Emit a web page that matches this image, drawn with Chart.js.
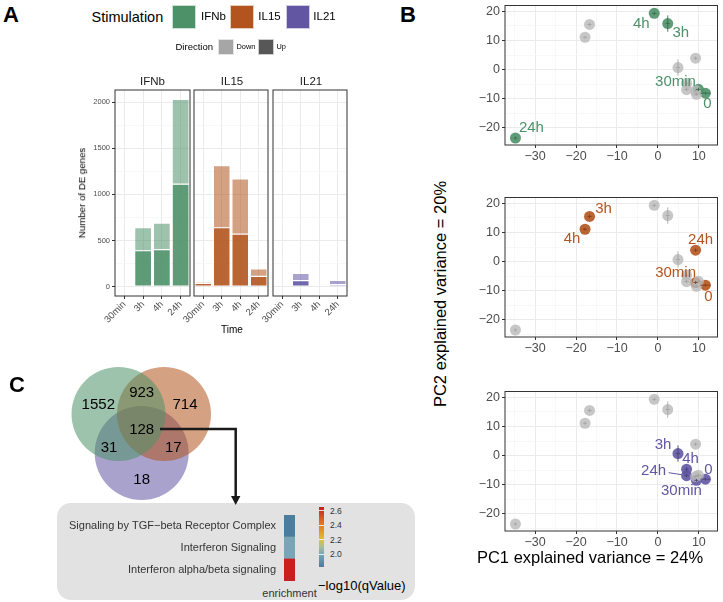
<!DOCTYPE html>
<html>
<head>
<meta charset="utf-8">
<script src="https://cdn.jsdelivr.net/npm/chart.js@4.4.1/dist/chart.umd.min.js"></script>
<style>
body { margin: 0; width: 723px; height: 602px; position: relative; background: #fff; overflow: hidden;
       font-family: "Liberation Sans", Arial, sans-serif; color: #000; }
canvas { position: absolute; }
.t { position: absolute; white-space: nowrap; line-height: 1; }
.sw { position: absolute; box-sizing: border-box; border: 1px solid rgba(255,255,255,0.7); }
#box { position: absolute; left: 57px; top: 503px; width: 358px; height: 97px; background: #e2e2e2; border-radius: 14px; }
#cbar { position: absolute; left: 319px; top: 507px; width: 5px; height: 60px; }
</style>
</head>
<body>
<div id="box"></div>
<div id="cbar"></div>
<canvas id="facetIFNb" width="107" height="238" style="left:85px;top:88px"></canvas>
<canvas id="facetIL15" width="116" height="238" style="left:154px;top:88px"></canvas>
<canvas id="facetIL21" width="116" height="238" style="left:233px;top:88px"></canvas>
<canvas id="pcaIFNb" width="263" height="165" style="left:460px;top:0px"></canvas>
<canvas id="pcaIL15" width="263" height="165" style="left:460px;top:192px"></canvas>
<canvas id="pcaIL21" width="263" height="165" style="left:460px;top:386px"></canvas>
<canvas id="venn" width="190" height="150" style="left:60px;top:360px"></canvas>
<canvas id="heat" width="240" height="71" style="left:60px;top:510px"></canvas>
<script>
// panel A: number of DE genes (Up at bottom, Down stacked on top)
const times = ['30min', '3h', '4h', '24h'];
const stimulations = ['IFNb', 'IL15', 'IL21'];
const upIFNb = [8, 389, 400, 1110];
const downIFNb = [14, 249, 289, 920];
const upIL15 = [35, 638, 570, 111];
const downIL15 = [15, 673, 598, 80];
const upIL21 = [4, 65, 8, 22];
const downIL21 = [6, 79, 10, 46];
const countTicks = [0, 250, 500, 750, 1000, 1250, 1500, 1750, 2000];

// panel B: PCA coordinates, order of pcTimes
const pcTimes = ['0', '30min', '3h', '4h', '24h'];
const pc1IFNb = [11.6, 9.9, 2.4, -0.9, -34.8];
const pc2IFNb = [-8.1, -6.8, 15.8, 19.3, -23.5];
const pc1IL15 = [11.6, 9.2, -16.7, -17.8, 9.2];
const pc2IL15 = [-8.1, -7.2, 15.5, 11.1, 3.9];
const pc1IL21 = [11.6, 9.4, 4.9, 7.0, 7.0];
const pc2IL21 = [-8.1, -8.5, 0.7, -4.7, -6.9];
const errXIFNb = [1.2, 0.6, 0.5, 0.5, 0.4];
const errYIFNb = [0.5, 0.6, 2.8, 0.6, 0.5];
const errXIL15 = [1.2, 0.5, 0.5, 0.5, 0.5];
const errYIL15 = [0.5, 0.5, 0.6, 0.5, 0.6];
const errXIL21 = [1.2, 0.5, 0.5, 0.5, 0.6];
const errYIL21 = [0.5, 0.5, 2.8, 0.8, 0.6];
const pcTicksX = [-35, -30, -25, -20, -15, -10, -5, 0, 5, 10];
const pcTicksY = [-25, -20, -15, -10, -5, 0, 5, 10, 15, 20];

// panel C: venn counts and enrichment
const vennRegions = ['IFNb', 'IFNb&IL15', 'IL15', 'IFNb&IL21', 'all', 'IL15&IL21', 'IL21'];
const vennCounts = [1552, 923, 714, 31, 128, 17, 18];
const pathways = ['Signaling by TGF\u2212beta Receptor Complex', 'Interferon Signaling', 'Interferon alpha/beta signaling'];
const enrichment = [1.83, 2.0, 2.65];
const enrichTicks = [2.0, 2.2, 2.4, 2.6];

Chart.defaults.font.family = '"Liberation Sans", Arial, sans-serif';
Chart.defaults.color = '#4d4d4d';

const stimRgb = { IFNb: [77, 145, 104], IL15: [179, 84, 30], IL21: [98, 86, 163] };
function rgba(c, a) { return 'rgba(' + c[0] + ',' + c[1] + ',' + c[2] + ',' + a + ')'; }
function minus(v) { return v < 0 ? '\u2212' + (-v) : String(v); }
function noPad(sc) { sc.paddingTop = 0; sc.paddingBottom = 0; sc.paddingLeft = 0; sc.paddingRight = 0; }

function txt(s, x, y, css, align) {
    const d = document.createElement('div');
    d.className = 't';
    d.textContent = s;
    d.style.cssText += 'left:' + x + 'px;top:' + y + 'px;' + (css || '');
    d.style.transform = align === 'left' ? 'translate(0,-50%)' : 'translate(-50%,-50%)';
    document.body.appendChild(d);
    return d;
}
function swatch(x, y, w, h, col) {
    const d = document.createElement('div');
    d.className = 'sw';
    d.style.cssText += 'left:' + x + 'px;top:' + y + 'px;width:' + w + 'px;height:' + h + 'px;background:' + col;
    document.body.appendChild(d);
}

const panelBorder = {
    id: 'panelBorder',
    afterDraw(chart) {
        const a = chart.chartArea, c = chart.ctx;
        c.save();
        c.strokeStyle = '#333';
        c.lineWidth = 1;
        c.strokeRect(a.left, a.top, a.right - a.left, a.bottom - a.top);
        c.restore();
    }
};

// ---- panel A ----
const upData = { IFNb: upIFNb, IL15: upIL15, IL21: upIL21 };
const downData = { IFNb: downIFNb, IL15: downIL15, IL21: downIL21 };

stimulations.forEach(function (s, k) {
    const first = k === 0;
    new Chart(document.getElementById('facet' + s), {
        type: 'bar',
        data: {
            labels: times,
            datasets: [
                { label: 'Up', data: upData[s], backgroundColor: rgba(stimRgb[s], 0.9),
                  borderColor: 'rgba(255,255,255,0.45)', borderWidth: 0.6, borderSkipped: false,
                  barPercentage: 0.95, categoryPercentage: 0.95 },
                { label: 'Down', data: downData[s], backgroundColor: rgba(stimRgb[s], 0.55),
                  borderColor: 'rgba(255,255,255,0.45)', borderWidth: 0.6, borderSkipped: false,
                  barPercentage: 0.95, categoryPercentage: 0.95 }
            ]
        },
        options: {
            responsive: false,
            animation: false,
            layout: { padding: { top: 2, right: 2, left: first ? 0 : 40, bottom: 0 } },
            plugins: { legend: { display: false }, tooltip: { enabled: false } },
            scales: {
                x: {
                    stacked: true,
                    grid: { offset: false, color: '#ebebeb', tickLength: 3, tickColor: '#333' },
                    border: { display: false },
                    ticks: { autoSkip: false, minRotation: 45, maxRotation: 45, padding: 0, font: { size: 9.5 }, color: '#4d4d4d' },
                    afterFit: function (sc) { noPad(sc); sc.height = 30; }
                },
                y: {
                    stacked: true,
                    min: -101.5,
                    max: 2131,
                    afterBuildTicks: function (sc) { sc.ticks = countTicks.map(v => ({ value: v })); },
                    grid: {
                        color: c => c.tick && c.tick.value % 500 === 0 ? '#ebebeb' : '#f4f4f4',
                        lineWidth: c => c.tick && c.tick.value % 500 === 0 ? 1 : 0.6,
                        drawTicks: first,
                        tickLength: 3,
                        tickColor: c => c.tick && c.tick.value % 500 === 0 ? '#333' : 'rgba(0,0,0,0)'
                    },
                    border: { display: false },
                    ticks: {
                        display: first,
                        autoSkip: false,
                        padding: 2,
                        font: { size: 7.5 },
                        color: '#4d4d4d',
                        callback: v => v % 500 === 0 ? String(v) : ''
                    },
                    afterFit: function (sc) { noPad(sc); sc.width = first ? 30 : 0; }
                }
            }
        },
        plugins: [panelBorder]
    });
});

// ---- panel B ----
const pcData = {
    IFNb: { x: pc1IFNb, y: pc2IFNb, ex: errXIFNb, ey: errYIFNb },
    IL15: { x: pc1IL15, y: pc2IL15, ex: errXIL15, ey: errYIL15 },
    IL21: { x: pc1IL21, y: pc2IL21, ex: errXIL21, ey: errYIL21 }
};
// label offsets in pixels from the point, same order as pcTimes
const labelNudge = {
    IFNb: [[2, 11], [-23, -8], [13, 9], [-13, 10], [16, -10]],
    IL15: [[3, 12], [-20, -10], [14, -8], [-13, 10], [5, -10]],
    IL21: [[3, -9], [-15, 11], [-15, -9], [4, -10], [-33, -5]]
};

const errorBars = {
    id: 'errorBars',
    afterDatasetsDraw(chart) {
        const c = chart.ctx, xs = chart.scales.x, ys = chart.scales.y;
        chart.data.datasets.forEach(function (ds) {
            c.save();
            c.strokeStyle = ds.errColor;
            c.lineWidth = 1;
            ds.data.forEach(function (p, i) {
                c.beginPath();
                c.moveTo(xs.getPixelForValue(p.x - ds.errX[i]), ys.getPixelForValue(p.y));
                c.lineTo(xs.getPixelForValue(p.x + ds.errX[i]), ys.getPixelForValue(p.y));
                c.moveTo(xs.getPixelForValue(p.x), ys.getPixelForValue(p.y - ds.errY[i]));
                c.lineTo(xs.getPixelForValue(p.x), ys.getPixelForValue(p.y + ds.errY[i]));
                c.stroke();
            });
            c.restore();
        });
    }
};

const pointLabels = {
    id: 'pointLabels',
    afterDatasetsDraw(chart, args, opts) {
        const c = chart.ctx, meta = chart.getDatasetMeta(1);
        c.save();
        c.font = '15px "Liberation Sans", Arial, sans-serif';
        c.fillStyle = opts.color;
        c.strokeStyle = opts.color;
        c.textAlign = 'center';
        c.textBaseline = 'middle';
        meta.data.forEach(function (pt, i) {
            const n = opts.nudge[i];
            c.fillText(pcTimes[i], pt.x + n[0], pt.y + n[1]);
            if (Math.abs(n[0]) > 30) {
                c.beginPath();
                c.lineWidth = 1;
                c.moveTo(pt.x + n[0] + 15, pt.y + n[1] + 2);
                c.lineTo(pt.x - 5, pt.y - 1);
                c.stroke();
            }
        });
        c.restore();
    }
};

stimulations.forEach(function (s) {
    const others = stimulations.filter(o => o !== s);
    const grey = [], greyEx = [], greyEy = [];
    others.forEach(function (o) {
        for (let i = 1; i < pcTimes.length; i++) {
            grey.push({ x: pcData[o].x[i], y: pcData[o].y[i] });
            greyEx.push(pcData[o].ex[i]);
            greyEy.push(pcData[o].ey[i]);
        }
    });
    const own = pcData[s].x.map((v, i) => ({ x: v, y: pcData[s].y[i] }));
    new Chart(document.getElementById('pca' + s), {
        type: 'scatter',
        data: {
            datasets: [
                { data: grey, pointRadius: 5.5, pointBackgroundColor: 'rgba(185,185,185,0.8)', pointBorderWidth: 0,
                  errX: greyEx, errY: greyEy, errColor: 'rgba(160,160,160,0.8)' },
                { data: own, pointRadius: 5.5, pointBackgroundColor: rgba(stimRgb[s], 0.9), pointBorderWidth: 0,
                  errX: pcData[s].ex, errY: pcData[s].ey, errColor: rgba(stimRgb[s].map(v => Math.round(v * 0.75)), 0.9) }
            ]
        },
        options: {
            responsive: false,
            animation: false,
            layout: { padding: { top: 2, right: 1, left: 0, bottom: 0 } },
            plugins: {
                legend: { display: false },
                tooltip: { enabled: false },
                pointLabels: { color: rgba(stimRgb[s], 1), nudge: labelNudge[s] }
            },
            scales: {
                x: {
                    min: -37.35,
                    max: 14.55,
                    afterBuildTicks: function (sc) { sc.ticks = pcTicksX.map(v => ({ value: v })); },
                    grid: {
                        color: c => c.tick && c.tick.value % 10 === 0 ? '#ebebeb' : '#f3f3f3',
                        lineWidth: c => c.tick && c.tick.value % 10 === 0 ? 1 : 0.6,
                        tickLength: 3,
                        tickColor: c => c.tick && c.tick.value % 10 === 0 ? '#333' : 'rgba(0,0,0,0)'
                    },
                    border: { display: false },
                    ticks: { autoSkip: false, maxRotation: 0, minRotation: 0, padding: 1, font: { size: 12.5 }, color: '#4d4d4d',
                             callback: v => v % 10 === 0 ? minus(v) : '' },
                    afterFit: function (sc) { noPad(sc); sc.height = 20; }
                },
                y: {
                    min: -25.9,
                    max: 22.0,
                    afterBuildTicks: function (sc) { sc.ticks = pcTicksY.map(v => ({ value: v })); },
                    grid: {
                        color: c => c.tick && c.tick.value % 10 === 0 ? '#ebebeb' : '#f3f3f3',
                        lineWidth: c => c.tick && c.tick.value % 10 === 0 ? 1 : 0.6,
                        tickLength: 3,
                        tickColor: c => c.tick && c.tick.value % 10 === 0 ? '#333' : 'rgba(0,0,0,0)'
                    },
                    border: { display: false },
                    ticks: { autoSkip: false, padding: 2, font: { size: 12.5 }, color: '#4d4d4d',
                             callback: v => v % 10 === 0 ? minus(v) : '' },
                    afterFit: function (sc) { noPad(sc); sc.width = 45; }
                }
            }
        },
        plugins: [panelBorder, errorBars, pointLabels]
    });
});

// ---- panel C: venn ----
const vennCircles = [
    { x: 58.5, y: 54, r: 47 },
    { x: 104, y: 54, r: 47 },
    { x: 81.7, y: 93, r: 47 }
];
const vennArrow = {
    id: 'vennArrow',
    afterDraw(chart) {
        const c = chart.ctx;
        c.save();
        c.strokeStyle = '#1a1a1a';
        c.fillStyle = '#1a1a1a';
        c.lineWidth = 2.5;
        c.beginPath();
        c.moveTo(100, 69);
        c.lineTo(175.7, 69);
        c.lineTo(175.7, 138);
        c.stroke();
        c.beginPath();
        c.moveTo(171, 136);
        c.lineTo(180.4, 136);
        c.lineTo(175.7, 145);
        c.closePath();
        c.fill();
        c.restore();
    }
};
new Chart(document.getElementById('venn'), {
    type: 'bubble',
    data: {
        datasets: stimulations.map((s, i) => ({
            data: [vennCircles[i]],
            backgroundColor: rgba(stimRgb[s], 0.55),
            borderWidth: 0,
            clip: false
        }))
    },
    options: {
        responsive: false,
        animation: false,
        layout: { padding: 0, autoPadding: false },
        plugins: { legend: { display: false }, tooltip: { enabled: false } },
        scales: {
            x: { display: false, min: 0, max: 190 },
            y: { display: false, min: 0, max: 150, reverse: true }
        }
    },
    plugins: [vennArrow]
});

const vennLabelPos = [[98.3, 402.7], [141.7, 391], [185, 402.7], [109, 446], [141.7, 428.3], [173.3, 446], [141.7, 478.3]];
vennCounts.forEach((n, i) => txt(String(n), vennLabelPos[i][0], vennLabelPos[i][1], 'font-size:15px;color:#000'));

// ---- panel C: enrichment heatmap ----
const enrichStops = [[1.83, [75, 126, 156]], [2.0, [121, 165, 183]], [2.1, [167, 189, 156]], [2.2, [220, 194, 60]],
                     [2.3, [229, 158, 42]], [2.45, [223, 110, 34]], [2.65, [200, 30, 30]]];
function enrichColor(v) {
    for (let i = 1; i < enrichStops.length; i++) {
        const a = enrichStops[i - 1], b = enrichStops[i];
        if (v <= b[0]) {
            const t = Math.max(0, (v - a[0]) / (b[0] - a[0]));
            return rgba(a[1].map((c, k) => Math.round(c + (b[1][k] - c) * t)), 1);
        }
    }
    return rgba(enrichStops[enrichStops.length - 1][1], 1);
}
new Chart(document.getElementById('heat'), {
    type: 'bar',
    data: {
        labels: pathways,
        datasets: [{
            data: enrichment.map(() => 1),
            backgroundColor: enrichment.map(enrichColor),
            borderWidth: 0,
            barPercentage: 1,
            categoryPercentage: 1
        }]
    },
    options: {
        indexAxis: 'y',
        responsive: false,
        animation: false,
        layout: { padding: { top: 5, right: 5, left: 0, bottom: 0 } },
        plugins: { legend: { display: false }, tooltip: { enabled: false } },
        scales: {
            x: { display: false, min: 0, max: 1 },
            y: {
                grid: { display: false, drawTicks: false },
                border: { display: false },
                ticks: { autoSkip: false, padding: 8, font: { size: 11 }, color: '#333' },
                afterFit: function (sc) { noPad(sc); sc.width = 224; }
            }
        }
    }
});

// colour bar
const cMin = 1.826, cMax = 2.655, cTop = 507, cH = 60;
const cbar = document.getElementById('cbar');
cbar.style.background = 'linear-gradient(to top,' + enrichStops.map(st =>
    rgba(st[1], 1) + ' ' + ((st[0] - cMin) / (cMax - cMin) * 100).toFixed(1) + '%').join(',') + ')';
enrichTicks.forEach(function (v) {
    const y = cTop + (cMax - v) / (cMax - cMin) * cH;
    const m = document.createElement('div');
    m.style.cssText = 'position:absolute;left:319px;width:5px;height:1px;background:rgba(255,255,255,0.8);top:' + (y - 0.5) + 'px';
    document.body.appendChild(m);
    txt(v.toFixed(1), 330, y, 'font-size:8.5px;color:#333', 'left');
});
txt('\u2212log10(qValue)', 318, 585, 'font-size:13px;color:#000', 'left');
txt('enrichment', 289.5, 593, 'font-size:11px;color:#333');

// ---- text and legends ----
txt('A', 3, 15, 'font-size:22px;font-weight:bold', 'left');
txt('B', 400, 15, 'font-size:22px;font-weight:bold', 'left');
txt('C', 9, 385, 'font-size:22px;font-weight:bold', 'left');

txt('Stimulation', 91.5, 17, 'font-size:14.5px', 'left');
const swX = [172.3, 230, 285.7];
const labX = [201, 258.3, 313.3];
stimulations.forEach(function (s, i) {
    swatch(swX[i], 4.7, 24, 24, rgba(stimRgb[s], 1));
    txt(s, labX[i], 17, 'font-size:11.5px', 'left');
});
txt('Direction', 175.5, 46.7, 'font-size:9.5px', 'left');
swatch(218.3, 39, 16, 15.5, '#a6a6a6');
txt('Down', 236.5, 46.7, 'font-size:7.4px', 'left');
swatch(258.3, 39, 16, 15.5, '#575757');
txt('Up', 276.5, 46.7, 'font-size:7.4px', 'left');

const facetX = [152.5, 232, 311];
stimulations.forEach((s, i) => txt(s, facetX[i], 81.7, 'font-size:11.5px;color:#1a1a1a'));
txt('Time', 232, 330, 'font-size:10px');
txt('Number of DE genes', 82, 193, 'font-size:9.7px').style.transform = 'translate(-50%,-50%) rotate(-90deg)';

txt('PC2 explained variance = 20%', 440, 294, 'font-size:16.5px').style.transform = 'translate(-50%,-50%) rotate(-90deg)';
txt('PC1 explained variance = 24%', 590, 556.7, 'font-size:16.5px');
</script>
</body>
</html>
